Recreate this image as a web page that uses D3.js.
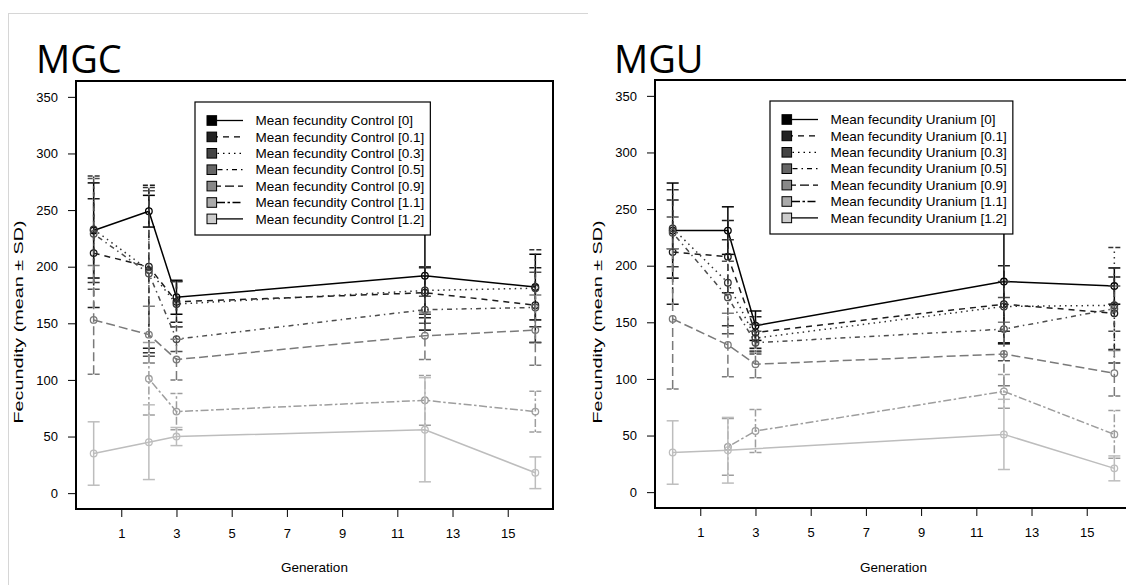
<!DOCTYPE html>
<html>
<head>
<meta charset="utf-8">
<script src="https://cdn.jsdelivr.net/npm/d3@7"></script>
<style>
  body { margin: 0; background: #fff; }
  svg { display: block; font-family: "Liberation Sans", Arial, sans-serif; }
</style>
</head>
<body>
<svg id="chart" width="1126" height="585"></svg>
<script>
// generations sampled
const generations = [0, 2, 3, 12, 16]
const doses = ['0', '0.1', '0.3', '0.5', '0.9', '1.1', '1.2']
const xTicks = [1, 3, 5, 7, 9, 11, 13, 15]
const yTicks = [0, 50, 100, 150, 200, 250, 300, 350]

// MGC means, one row per dose (null = not measured)
const mgcMeans = [
  [232, 249, 173, 192, 182],
  [212, 200, 169, 177, 166],
  [233, 197, 167, 179, 181],
  [229, 194, 136, 162, 164],
  [153, 140, 118, 139, 144],
  [null, 101, 72, 82, 72],
  [35, 45, 50, 56, 18]
]
const mgcSD = [
  [42, 14, 15, 48, 29],
  [48, 72, 18, 22, 33],
  [47, 73, 20, 21, 34],
  [49, 73, 11, 12, 31],
  [48, 25, 18, 21, 31],
  [null, 32, 16, 22, 18],
  [28, 33, 8, 46, 14]
]

// MGU means
const mguMeans = [
  [231, 231, 147, 186, 182],
  [212, 208, 141, 166, 158],
  [233, 185, 136, 164, 165],
  [229, 172, 132, 144, 162],
  [153, 130, 113, 122, 105],
  [null, 40, 54, 89, 51],
  [35, 37, null, 51, 21]
]
const mguSD = [
  [42, 21, 13, 55, 16],
  [46, 32, 14, 34, 32],
  [34, 38, 12, 22, 51],
  [14, 32, 10, 28, 20],
  [62, 28, 12, 28, 20],
  [null, 25, 19, 15, 21],
  [28, 29, null, 31, 11]
]

const lineColors = ['#000000', '#1c1c1c', '#333333', '#4d4d4d', '#7a7a7a', '#9e9e9e', '#bdbdbd']
const fillColors = ['#000000', '#222222', '#444444', '#666666', '#888888', '#aaaaaa', '#cccccc']
// R lty 1..6 then back to solid
const dashes = [null, '6,5', '1.5,4', '1.5,4,5,4', '9,4', '2.5,2.5,8,2.5', null]

const svg = d3.select('#chart')

// light frame around the left card
svg.append('line').attr('x1', 8).attr('x2', 588).attr('y1', 13.5).attr('y2', 13.5)
  .attr('stroke', '#d6d6d6').attr('stroke-width', 1)
svg.append('line').attr('x1', 8.5).attr('x2', 8.5).attr('y1', 13).attr('y2', 585)
  .attr('stroke', '#d6d6d6').attr('stroke-width', 1)

function drawPanel (opt) {
  const g = svg.append('g')
  const x = d3.scaleLinear().domain([-0.64, 16.64]).range([opt.left, opt.left + 477])
  const y = d3.scaleLinear().domain([-14, 364]).range([opt.top + 428, opt.top])
  const bottom = opt.top + 428

  g.append('text').attr('x', opt.titleX).attr('y', 73)
    .style('font-family', '"Open Sans", sans-serif').style('font-size', '38px')
    .text(opt.title)

  const clipId = 'clip-' + opt.title
  g.append('clipPath').attr('id', clipId).append('rect')
    .attr('x', opt.left).attr('y', opt.top).attr('width', 477).attr('height', 428)
  const plot = g.append('g').attr('clip-path', `url(#${clipId})`)

  doses.forEach((dose, i) => {
    const pts = generations.map((gen, j) => ({ gen, m: opt.means[i][j], sd: opt.sd[i][j] }))
      .filter(d => d.m !== null)
    const col = lineColors[i]
    const sg = plot.append('g')

    // error bars
    pts.forEach(d => {
      const xx = x(d.gen)
      sg.append('line').attr('x1', xx).attr('x2', xx)
        .attr('y1', y(d.m - d.sd)).attr('y2', y(d.m + d.sd))
        .attr('stroke', col).attr('stroke-width', 1.5)
        .attr('stroke-dasharray', dashes[i])
      ;[d.m - d.sd, d.m + d.sd].forEach(v => {
        sg.append('line').attr('x1', xx - 6).attr('x2', xx + 6)
          .attr('y1', y(v)).attr('y2', y(v))
          .attr('stroke', col).attr('stroke-width', 1.5)
          .attr('stroke-dasharray', dashes[i] ? '5,2' : null)
      })
    })

    const line = d3.line().x(d => x(d.gen)).y(d => y(d.m))
    sg.append('path').datum(pts).attr('d', line)
      .attr('fill', 'none').attr('stroke', col).attr('stroke-width', 1.5)
      .attr('stroke-dasharray', dashes[i])

    sg.selectAll('circle').data(pts).join('circle')
      .attr('cx', d => x(d.gen)).attr('cy', d => y(d.m)).attr('r', 3.3)
      .attr('fill', 'none').attr('stroke', col).attr('stroke-width', 1.3)
  })

  // box
  g.append('rect').attr('x', opt.left).attr('y', opt.top).attr('width', 477).attr('height', 428)
    .attr('fill', 'none').attr('stroke', '#000').attr('stroke-width', 2)

  // y axis
  const ya = g.append('g').attr('transform', `translate(${opt.left},0)`)
    .call(d3.axisLeft(y).tickValues(yTicks).tickSize(8).tickPadding(10).tickSizeOuter(0))
  ya.select('.domain').remove()
  ya.selectAll('text').style('font-size', '13px').style('font-family', '"Liberation Sans", Arial, sans-serif')
    .attr('fill', '#000')

  // x axis
  const xa = g.append('g').attr('transform', `translate(0,${bottom})`)
    .call(d3.axisBottom(x).tickValues(xTicks).tickSize(8).tickPadding(12).tickSizeOuter(0))
  xa.select('.domain').remove()
  xa.selectAll('text').style('font-size', '13px').style('font-family', '"Liberation Sans", Arial, sans-serif')
    .attr('fill', '#000')

  g.append('text').attr('x', opt.left + 238.5).attr('y', 572).attr('text-anchor', 'middle')
    .style('font-size', '13.5px').text('Generation')
  g.append('text').attr('transform', `translate(${opt.left - 53},322) rotate(-90)`)
    .attr('text-anchor', 'middle').style('font-size', '13px')
    .attr('textLength', 203).attr('lengthAdjust', 'spacingAndGlyphs')
    .text('Fecundity (mean ± SD)')

  // legend
  const lg = g.append('g').attr('transform', `translate(${opt.legendX},${opt.top + 21})`)
  const box = lg.append('rect').attr('x', 0).attr('y', 0).attr('height', 133)
    .attr('fill', '#fff').attr('stroke', '#000').attr('stroke-width', 1.2)
  let maxW = 0
  doses.forEach((dose, i) => {
    const yy = 18.5 + i * 16.4
    lg.append('line').attr('x1', 17).attr('x2', 48).attr('y1', yy).attr('y2', yy)
      .attr('stroke', '#000').attr('stroke-width', 1.3).attr('stroke-dasharray', dashes[i])
    lg.append('rect').attr('x', 12).attr('y', yy - 4.8).attr('width', 9.6).attr('height', 9.6)
      .attr('fill', fillColors[i]).attr('stroke', '#000').attr('stroke-width', 1)
    const t = lg.append('text').attr('x', 60.5).attr('y', yy + 4.6)
      .style('font-size', '13.5px').text(`Mean fecundity ${opt.group} [${dose}]`)
    maxW = Math.max(maxW, t.node().getComputedTextLength())
  })
  box.attr('width', 60.5 + maxW + 6)
}

drawPanel({ title: 'MGC', group: 'Control', left: 76, top: 81, titleX: 36, legendX: 195, means: mgcMeans, sd: mgcSD })
drawPanel({ title: 'MGU', group: 'Uranium', left: 655, top: 80, titleX: 614, legendX: 770, means: mguMeans, sd: mguSD })
</script>
</body>
</html>
